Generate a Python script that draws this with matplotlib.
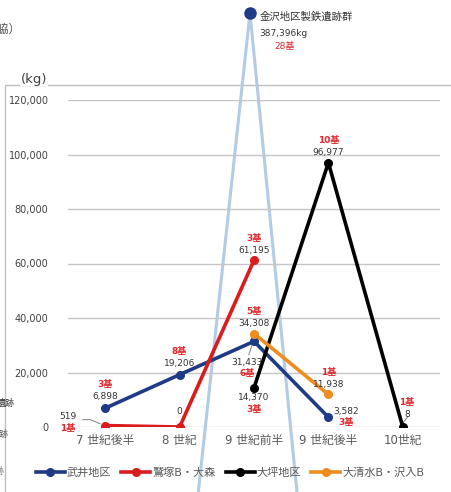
import matplotlib.pyplot as plt
import matplotlib.patches as patches
import numpy as np

plt.rcParams['font.family'] = ['DejaVu Sans', 'Noto Sans CJK JP']

# data
periods = ["7 世紀後半", "8 世紀", "9 世紀前半", "9 世紀後半", "10世紀"]
takei = [6898, 19206, 31433, 3582, np.nan]
washizuka = [519, 0, 61195, np.nan, np.nan]
otsubo = [np.nan, np.nan, 14370, 96977, 8]
oshimizu = [np.nan, np.nan, 34308, 11938, np.nan]
kanazawa_value = 387396
kanazawa_count = "28基"

takei_counts = ["3基", "8基", "6基", "3基", None]
washizuka_counts = ["1基", None, "3基", None, None]
otsubo_counts = [None, None, "3基", "10基", "1基"]
oshimizu_counts = [None, None, "5基", "1基", None]

yticks = [0, 20000, 40000, 60000, 80000, 100000, 120000]

c_takei = '#1f3a86'
c_washi = '#d91c1c'
c_otsubo = '#000000'
c_oshi = '#ef8c1e'
c_kana = '#b3cce6'
c_red = '#e0282d'
c_txt = '#333333'

fig = plt.figure(figsize=(4.51, 4.92), dpi=100)
ax = fig.add_axes([68/451, 65/492, 372/451, 327/492])
x = np.arange(len(periods))

# light blue overlay for the Kanazawa group (own scale)
ax2 = ax.twinx()
top2 = kanazawa_value / 1.266
ax2.set_ylim(0, top2)
ax2.axis('off')
ax2.plot([1.274 - 0.07, 1.946, 2.551 + 0.07], [-0.3 * top2, kanazawa_value, -0.3 * top2],
         color=c_kana, lw=2.2, clip_on=False, solid_joinstyle='miter')
ax2.plot([1.946], [kanazawa_value], 'o', color=c_takei, ms=8, clip_on=False)
ax2.annotate("金沢地区製鉄遺跡群", (1.946, kanazawa_value), xytext=(7, -3), textcoords='offset points',
             fontsize=7.5, color=c_txt, ha='left', va='center', annotation_clip=False)
ax2.annotate(f"{kanazawa_value:,}kg", (1.946, kanazawa_value), xytext=(7, -15), textcoords='offset points',
             fontsize=6.5, color=c_txt, ha='left', va='center', annotation_clip=False)
ax2.annotate(kanazawa_count, (1.946, kanazawa_value), xytext=(25, -24), textcoords='offset points',
             fontsize=6.5, color=c_red, ha='center', va='center', annotation_clip=False)

ax.set_zorder(2)
ax.patch.set_visible(False)
ax2.set_zorder(1)

series = [
    ("武井地区", takei, c_takei),
    ("鷲塚B・大森", washizuka, c_washi),
    ("大坪地区", otsubo, c_otsubo),
    ("大清水B・沢入B", oshimizu, c_oshi),
]
for name, vals, col in series:
    ax.plot(x, vals, color=col, lw=2.6, marker='o', ms=5.5, label=name, zorder=3)

ax.set_xlim(-0.5, len(periods) - 0.5)
ax.set_ylim(0, 120000)
ax.set_yticks(yticks)
ax.set_yticklabels([f"{v:,}" for v in yticks], fontsize=7, color='#404040')
ax.set_xticks(x)
ax.set_xticklabels(periods, fontsize=8.5, color='#595959')
ax.tick_params(axis='y', length=0, pad=14)
ax.tick_params(axis='x', length=0, pad=5)
ax.grid(axis='y', color='#c6c6c6', lw=1)
ax.set_axisbelow(True)
for s in ax.spines.values():
    s.set_visible(False)

FS = 6.5


def label(xi, v, count, dx=0, dy=5, value_text=None):
    txt = value_text if value_text is not None else f"{v:,}"
    ax.annotate(txt, (xi, v), xytext=(dx, dy), textcoords='offset points', fontsize=FS,
                color=c_txt, ha='center', va='bottom', annotation_clip=False)
    if count:
        ax.annotate(count, (xi, v), xytext=(dx, dy + 8.5), textcoords='offset points', fontsize=FS,
                    color=c_red, ha='center', va='bottom', fontweight='bold', annotation_clip=False)


def label_below(xi, v, count, dx=0, dy=-4):
    ax.annotate(f"{v:,}", (xi, v), xytext=(dx, dy), textcoords='offset points', fontsize=FS,
                color=c_txt, ha='center', va='top', annotation_clip=False)
    if count:
        ax.annotate(count, (xi, v), xytext=(dx, dy - 8), textcoords='offset points', fontsize=FS,
                    color=c_red, ha='center', va='top', fontweight='bold', annotation_clip=False)


# 武井地区
label(0, takei[0], takei_counts[0])
label(1, takei[1], takei_counts[1])
label_below(2, takei[2], takei_counts[2], dx=-5, dy=-12)
ax.plot([1.93, 1.98], [26500, 30500], color='#7f7f7f', lw=0.7)
ax.annotate(f"{takei[3]:,}", (3, takei[3]), xytext=(13, 1), textcoords='offset points', fontsize=FS,
            color=c_txt, ha='center', va='bottom')
ax.annotate(takei_counts[3], (3, takei[3]), xytext=(13, -7), textcoords='offset points', fontsize=FS,
            color=c_red, ha='center', va='bottom', fontweight='bold')

# 鷲塚B・大森
ax.annotate(f"{washizuka[0]:,}", (0, washizuka[0]), xytext=(-27, 3), textcoords='offset points', fontsize=FS,
            color=c_txt, ha='center', va='bottom')
ax.annotate(washizuka_counts[0], (0, washizuka[0]), xytext=(-27, -5), textcoords='offset points', fontsize=FS,
            color=c_red, ha='center', va='bottom', fontweight='bold')
ax.plot([-0.3, -0.2, -0.07], [2700, 2700, 1200], color='#7f7f7f', lw=0.7)
label(1, washizuka[1], None, dy=8)
label(2, washizuka[2], washizuka_counts[2], dy=4)

# 大坪地区
label_below(2, otsubo[2], otsubo_counts[2], dy=-4)
label(3, otsubo[3], otsubo_counts[3], dy=4)
label(4, otsubo[4], otsubo_counts[4], dx=3, dy=6, value_text=str(otsubo[4]))
ax.plot([3.96, 4.07], [200, 3800], color='#7f7f7f', lw=0.7)

# 大清水B・沢入B
label(2, oshimizu[2], oshimizu_counts[2], dy=4)
label(3, oshimizu[3], oshimizu_counts[3], dy=4)

leg = fig.legend(loc='center', bbox_to_anchor=(0.51, 0.039), ncol=4, frameon=False, fontsize=8,
                 handlelength=2.6, columnspacing=0.9, handletextpad=0.2, labelcolor='#595959')

# chart frame and surrounding text
fig.add_artist(patches.Rectangle((5/451, -0.1), 1.2, 0.1 + 1 - 85/492, transform=fig.transFigure,
                                 fill=False, ec='#bfbfbf', lw=1))
fig.text(34/451, 1 - 79/492, "(kg)", fontsize=9.5, color='#404040', ha='center', va='center',
         bbox=dict(fc='white', ec='none', pad=0.5))
fig.text(21/451, 1 - 29/492, "鋼脇）", fontsize=8.5, color='#555555', ha='right', va='center')
fig.text(15/451, 1 - 403/492, "遺跡", fontsize=6.5, color='#333333', ha='right', va='center')
fig.text(9/451, 1 - 434/492, "遺跡", fontsize=6.5, color='#555555', ha='right', va='center')
fig.text(4/451, 1 - 471/492, "跡", fontsize=6.5, color='#777777', ha='right', va='center')

fig.savefig("out.png", dpi=100, facecolor='white')
